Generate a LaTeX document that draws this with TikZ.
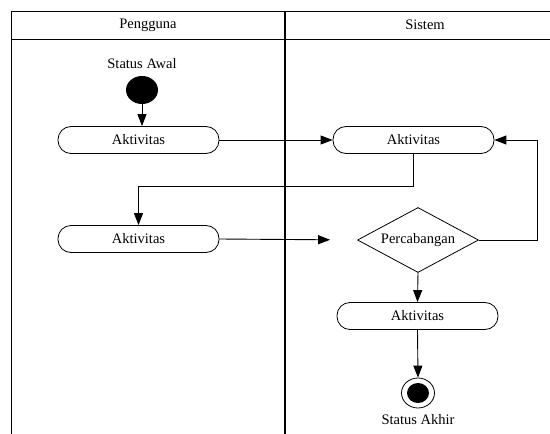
\documentclass[tikz,border=0pt]{standalone}
\usepackage{fontspec}
\setmainfont{Liberation Serif}
\usetikzlibrary{arrows.meta,shapes.geometric}
\tikzset{
  teks/.style={font=\fontsize{14.5}{17}\selectfont, inner sep=0pt},
  aktivitas/.style={teks, draw, line width=0.8pt, rounded corners=13pt, minimum width=161pt, minimum height=27pt},
  keputusan/.style={teks, draw, line width=0.8pt, diamond, aspect=2, minimum width=121pt, minimum height=65pt},
  alur/.style={line width=0.9pt, -{Triangle[length=12pt,width=9pt]}},
  garis/.style={line width=0.9pt}
}
\begin{document}
\begin{tikzpicture}[x=1pt,y=-1pt]
\useasboundingbox (0,0) rectangle (550,434);
% swimlane
\draw[garis] (550,11.7)--(11.7,11.7)--(11.7,434);
\draw[garis] (11.7,39)--(550,39);
\draw[line width=1.2pt] (285,11.7)--(285,434);
\node[teks] (lajur1) at (148,25) {Pengguna}; \node[teks] (lajur2) at (425,25) {Sistem};
% simpul
\node[teks] (awal) at (142,64) {Status Awal};
\node[ellipse, fill=black, minimum width=32pt, minimum height=28pt, inner sep=0pt] (mulai) at (142,90) {};
\node[aktivitas] (akt1) at (138.5,140) {Aktivitas};
\node[aktivitas] (akt2) at (413.5,140) {Aktivitas};
\node[aktivitas] (akt3) at (138.5,239) {Aktivitas};
\node[keputusan] (cabang) at (418,240) {Percabangan};
\node[aktivitas] (akt4) at (417.5,316) {Aktivitas};
\node[ellipse, draw, line width=0.8pt, minimum width=33pt, minimum height=30pt, inner sep=0pt] (selesai) at (418,393) {};
\node[ellipse, fill=black, minimum width=22pt, minimum height=20pt, inner sep=0pt] (selesai0) at (418,393) {};
\node[teks] (akhir) at (418,420) {Status Akhir};
% alur
\draw[alur] (mulai.south) -- (mulai.south |- akt1.north);
\draw[alur] (akt1.east) -- (akt2.west);
\draw[alur] (akt2.south) -- ++(0,33) -| (akt3.north);
\draw[alur, shorten >=27pt] (akt3.east) -- (cabang.west);
\draw[alur] (cabang.east) -- ++(59,0) |- (akt2.east);
\draw[alur] (cabang.south) -- (akt4.north);
\draw[alur] (akt4.south) -- (selesai.north);
\end{tikzpicture}
\end{document}
